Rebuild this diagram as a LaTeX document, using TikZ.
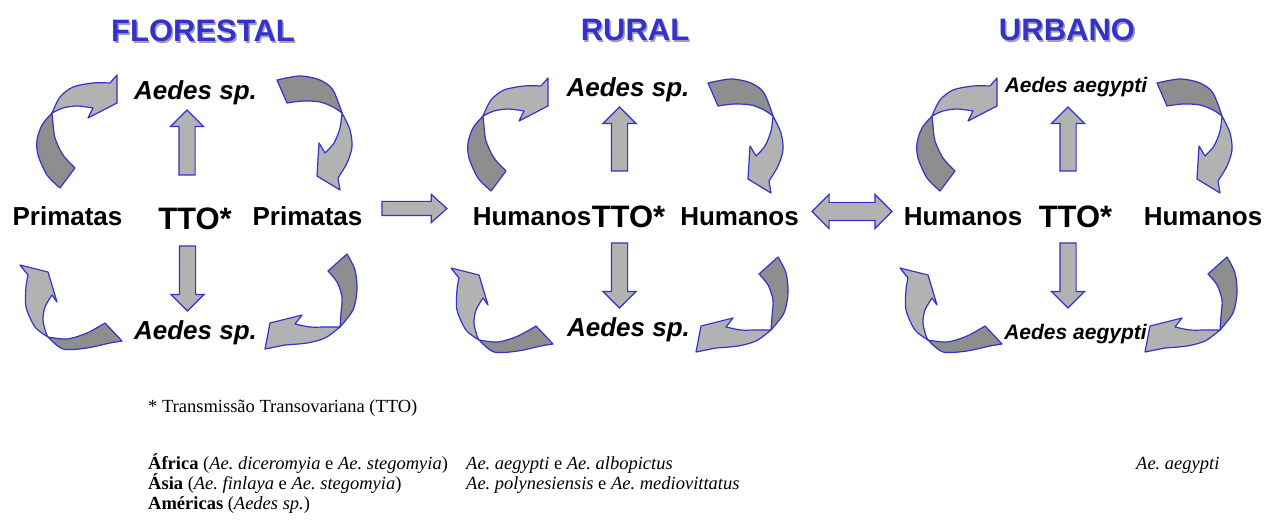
\documentclass[tikz,border=0pt]{standalone}
\usepackage{fontspec}
\setmainfont{Liberation Serif}
\newfontfamily\arialfont{Liberation Sans}
\usetikzlibrary{shapes.arrows}
\definecolor{cycleblue}{RGB}{51, 51, 204}
\definecolor{shadowgray}{RGB}{160, 160, 175}
\definecolor{arrowlight}{RGB}{178, 178, 178}
\definecolor{arrowdark}{RGB}{142, 142, 142}

% the four curved arrows of one cycle (pixel grid, y downwards)
\newcommand{\cyclearrows}{%
  \filldraw [backpart] (60,-188) -- plot [smooth] coordinates {(75,-168) (63,-155) (55,-138) (53,-123) (52,-113)} -- plot [smooth] coordinates {(52,-113) (42,-125) (37,-140) (38,-155) (47,-175) (60,-188)} -- cycle;
  \filldraw [frontpart] (52,-113) -- plot [smooth] coordinates {(52,-113) (60,-97) (73,-87) (93,-83) (110,-83)} -- (117,-75) -- (117,-103) -- (88,-118) -- plot [smooth] coordinates {(93,-108) (77,-106) (63,-108) (52,-113)} -- cycle;
  \filldraw [backpart] (277,-80) -- plot [smooth] coordinates {(277,-80) (300,-76) (320,-80) (333,-90) (342,-113)} -- plot [smooth] coordinates {(342,-113) (333,-107) (320,-102) (303,-101) (287,-103)} -- cycle;
  \filldraw [frontpart] (342,-113) -- plot [smooth] coordinates {(342,-113) (350,-130) (352,-147) (347,-163) (338,-178)} -- (340,-190) -- (317,-176) -- (319,-143) -- plot [smooth] coordinates {(325,-153) (334,-143) (340,-128) (342,-113)} -- cycle;
  \filldraw [backpart] (328,-271) -- (347,-254) -- plot [smooth] coordinates {(347,-254) (355,-270) (357,-290) (353,-310) (340,-327)} -- plot [smooth] coordinates {(340,-327) (341,-313) (342,-297) (337,-282) (328,-271)} -- cycle;
  \filldraw [frontpart] (340,-327) -- plot [smooth] coordinates {(340,-327) (325,-338) (307,-343) (285,-345)} -- (265,-349) -- (270,-323) -- (302,-315) -- plot [smooth] coordinates {(295,-324) (310,-327) (325,-327) (340,-327)} -- cycle;
  \filldraw [frontpart] (20,-265) -- (48,-272) -- (57,-302) -- plot [smooth] coordinates {(52,-295) (45,-307) (43,-320) (46,-333) (48,-337)} -- plot [smooth] coordinates {(48,-337) (35,-327) (26,-307) (26,-287) (28,-275)} -- cycle;
  \filldraw [backpart] (48,-337) -- plot [smooth] coordinates {(48,-337) (63,-349) (87,-348) (110,-343) (122,-341)} -- (105,-323) -- plot [smooth] coordinates {(105,-323) (87,-333) (67,-339) (48,-337)} -- cycle;
}

\begin{document}
\frenchspacing
\begin{tikzpicture}[x=1pt, y=1pt,
    title/.style={font=\arialfont\bfseries\fontsize{31}{31}\selectfont, text=cycleblue, anchor=base, inner sep=0pt},
    titleshadow/.style={title, text=shadowgray},
    host/.style={font=\arialfont\bfseries\fontsize{26}{26}\selectfont, anchor=base, inner sep=0pt},
    tto/.style={font=\arialfont\bfseries\fontsize{31}{31}\selectfont, anchor=base, inner sep=0pt},
    vector/.style={font=\arialfont\bfseries\itshape\fontsize{26}{26}\selectfont, anchor=base, inner sep=0pt},
    smallvector/.style={vector, font=\arialfont\bfseries\itshape\fontsize{21}{21}\selectfont},
    note/.style={font=\fontsize{18.5}{20}\selectfont, anchor=base west, inner sep=0pt},
    backpart/.style={fill=arrowdark, draw=cycleblue, line width=1.2pt, line join=round},
    frontpart/.style={fill=arrowlight, draw=cycleblue, line width=1.2pt, line join=round},
    blockarrow/.style={single arrow, draw=cycleblue, fill=arrowlight, line width=1.2pt, inner xsep=0pt, single arrow tip angle=90}]
    \useasboundingbox (0,0) rectangle (1269,-529);

    % titles
    \node [titleshadow] (flo-sh) at (204.5,-43.5) {FLORESTAL};
    \node [title] (flo) at (203,-42) {FLORESTAL};
    \node [titleshadow] (rur-sh) at (636.5,-42.5) {RURAL};
    \node [title] (rur) at (635,-41) {RURAL};
    \node [titleshadow] (urb-sh) at (1068.5,-42.5) {URBANO};
    \node [title] (urb) at (1067,-41) {URBANO};

    % curved arrows
    \cyclearrows
    \begin{scope}[shift={(431,-3)}]
        \cyclearrows
    \end{scope}
    \begin{scope}[shift={(880,-3)}]
        \cyclearrows
    \end{scope}

    % florestal
    \node [vector] (aedesT1) at (195.5,-100) {Aedes sp.};
    \node [host] (prim1L) at (67.5,-226) {Primatas};
    \node [tto] (tto1) at (195,-230) {TTO*};
    \node [host] (prim1R) at (307.5,-226) {Primatas};
    \node [vector] (aedesB1) at (195.5,-340) {Aedes sp.};
    \node [blockarrow, rotate=90, minimum height=65pt, inner ysep=7.5pt, single arrow head extend=8.5pt] (up1) at (187,-146.5) {};
    \node [blockarrow, rotate=-90, minimum height=65pt, inner ysep=7.5pt, single arrow head extend=8.5pt] (down1) at (187.5,-274.5) {};

    % rural
    \node [vector] (aedesT2) at (628,-97) {Aedes sp.};
    \node [host] (hum2L) at (532,-226) {Humanos};
    \node [tto] (tto2) at (628.5,-228) {TTO*};
    \node [host] (hum2R) at (739.5,-226) {Humanos};
    \node [vector] (aedesB2) at (628.5,-336) {Aedes sp.};
    \node [blockarrow, rotate=90, minimum height=64pt, inner ysep=7.5pt, single arrow head extend=8.5pt] (up2) at (619.5,-143) {};
    \node [blockarrow, rotate=-90, minimum height=65pt, inner ysep=7.5pt, single arrow head extend=8.5pt] (down2) at (619.5,-271.5) {};

    % urbano
    \node [smallvector] (aedesT3) at (1076,-93) {Aedes aegypti};
    \node [host] (hum3L) at (963,-226) {Humanos};
    \node [tto] (tto3) at (1075.5,-228) {TTO*};
    \node [host] (hum3R) at (1203,-226) {Humanos};
    \node [smallvector] (aedesB3) at (1075.5,-339) {Aedes aegypti};
    \node [blockarrow, rotate=90, minimum height=64pt, inner ysep=7.5pt, single arrow head extend=8.5pt] (up3) at (1068,-143) {};
    \node [blockarrow, rotate=-90, minimum height=65pt, inner ysep=7.5pt, single arrow head extend=8.5pt] (down3) at (1068,-271.5) {};

    % between the cycles
    \node [blockarrow, single arrow tip angle=84, single arrow head extend=7pt, inner ysep=6.5pt, minimum height=65pt] (go) at (410.5,-208.5) {};
    \node [blockarrow, double arrow, double arrow tip angle=90, double arrow head extend=8pt, inner ysep=8.5pt, minimum height=80pt] (both) at (852,-211.5) {};

    % notes
    \node [note] (tto-note) at (148,-412) {* Transmissão Transovariana (TTO)};
    \node [note] (afr) at (148,-469) {\textbf{África} (\textit{Ae. diceromyia} e \textit{Ae. stegomyia})};
    \node [note] (asi) at (148,-489) {\textbf{Ásia} (\textit{Ae. finlaya} e \textit{Ae. stegomyia})};
    \node [note] (ame) at (148,-509) {\textbf{Américas} (\textit{Aedes sp.})};
    \node [note] (afr-urb) at (466,-469) {\textit{Ae. aegypti} e \textit{Ae. albopictus}};
    \node [note] (asi-urb) at (466,-489) {\textit{Ae. polynesiensis} e \textit{Ae. mediovittatus}};
    \node [note] (afr-urb2) at (1136,-469) {\textit{Ae. aegypti}};
\end{tikzpicture}
\end{document}
